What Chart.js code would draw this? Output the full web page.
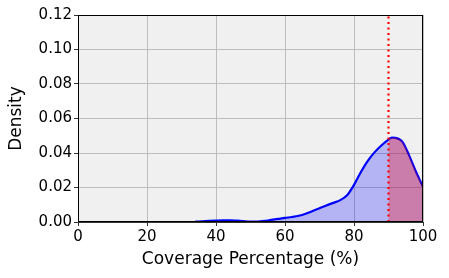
<!DOCTYPE html>
<html>
<head>
<meta charset="utf-8">
<script src="https://cdn.jsdelivr.net/npm/chart.js@4"></script>
<style>
  html, body { margin: 0; padding: 0; background: #fff; }
  #wrap { width: 449px; height: 278px; }
</style>
</head>
<body>
<div id="wrap"><canvas id="kde"></canvas></div>
<script>
// KDE of coverage percentage
const coverageX = [34, 36, 38, 40, 42, 44, 46, 48, 50, 52, 54, 56, 58, 60, 62, 64, 66, 68, 70, 72, 74, 76, 78, 80, 82, 84, 86, 88, 90, 91, 92, 94, 96, 98, 100];
const densityY = [0.0002, 0.0004, 0.0006, 0.0008, 0.0010, 0.0010, 0.0008, 0.0005, 0.0003, 0.0003, 0.0006, 0.0012, 0.0018, 0.0024, 0.0029, 0.0036, 0.0048, 0.0064, 0.0080, 0.0096, 0.0111, 0.0127, 0.0155, 0.0215, 0.0290, 0.0355, 0.0405, 0.0445, 0.0478, 0.0489, 0.0488, 0.0466, 0.0385, 0.0290, 0.0204];
const threshold = 90;
const xTicks = [0, 20, 40, 60, 80, 100];
const yTicks = [0, 0.02, 0.04, 0.06, 0.08, 0.10, 0.12];

const curve = coverageX.map((x, i) => ({ x: x, y: densityY[i] }));
const tail = curve.filter(p => p.x >= threshold);
const base = [{ x: coverageX[0], y: 0 }, { x: coverageX[coverageX.length - 1], y: 0 }];

// grey plot background + black frame
const frame = {
  id: 'frame',
  beforeDraw(chart) {
    const { ctx, chartArea: a } = chart;
    ctx.save();
    ctx.fillStyle = '#f0f0f0';
    ctx.fillRect(a.left, a.top, a.right - a.left, a.bottom - a.top);
    ctx.restore();
  },
  afterDraw(chart) {
    const { ctx, chartArea: a } = chart;
    ctx.save();
    ctx.strokeStyle = '#000';
    ctx.lineWidth = 1;
    ctx.strokeRect(a.left + 0.5, a.top + 0.5, a.right - a.left - 1, a.bottom - a.top - 1);
    ctx.restore();
  }
};

const tickFont = { family: 'DejaVu Sans', size: 15 };
const titleFont = { family: 'DejaVu Sans', size: 17 };

new Chart(document.getElementById('kde'), {
  type: 'scatter',
  data: {
    datasets: [
      {
        data: curve,
        showLine: true,
        borderColor: '#0000ff',
        borderWidth: 2.2,
        backgroundColor: 'rgba(0,0,255,0.25)',
        fill: 'origin',
        pointRadius: 0,
        cubicInterpolationMode: 'monotone',
        order: 4
      },
      {
        data: base,
        showLine: true,
        borderColor: '#0000ff',
        borderWidth: 1.5,
        pointRadius: 0,
        fill: false,
        order: 3
      },
      {
        data: tail,
        showLine: true,
        borderWidth: 0,
        borderColor: 'rgba(0,0,0,0)',
        backgroundColor: 'rgba(255,0,0,0.3)',
        fill: 'origin',
        pointRadius: 0,
        cubicInterpolationMode: 'monotone',
        order: 2
      },
      {
        data: [{ x: threshold, y: 0 }, { x: threshold, y: 0.12 }],
        showLine: true,
        borderColor: '#ff0000',
        borderWidth: 2.2,
        borderDash: [2, 3.5],
        pointRadius: 0,
        fill: false,
        order: 1
      }
    ]
  },
  options: {
    responsive: true,
    maintainAspectRatio: false,
    animation: false,
    layout: { padding: { top: 15, right: 26, left: 0, bottom: 0 } },
    plugins: { legend: { display: false }, tooltip: { enabled: false } },
    scales: {
      x: {
        type: 'linear',
        min: 0,
        max: 100,
        afterBuildTicks: s => { s.ticks = xTicks.map(v => ({ value: v })); },
        afterFit: s => { s.height = 56; },
        ticks: { color: '#000', font: tickFont, padding: 2, maxRotation: 0 },
        grid: { color: '#bdbdbd', lineWidth: 1, tickLength: 4, tickColor: '#333' },
        border: { color: '#333' },
        title: { display: true, text: 'Coverage Percentage (%)', color: '#000', font: titleFont, padding: { top: 0, bottom: 8 } }
      },
      y: {
        min: 0,
        max: 0.12,
        afterBuildTicks: s => { s.ticks = yTicks.map(v => ({ value: v })); },
        afterFit: s => { s.width = 78; },
        ticks: { color: '#000', font: tickFont, padding: 2, callback: v => v.toFixed(2) },
        grid: { color: '#bdbdbd', lineWidth: 1, tickLength: 4, tickColor: '#333' },
        border: { color: '#333' },
        title: { display: true, text: 'Density', color: '#000', font: titleFont, padding: { top: 6, bottom: 0 } }
      }
    }
  },
  plugins: [frame]
});
</script>
</body>
</html>
